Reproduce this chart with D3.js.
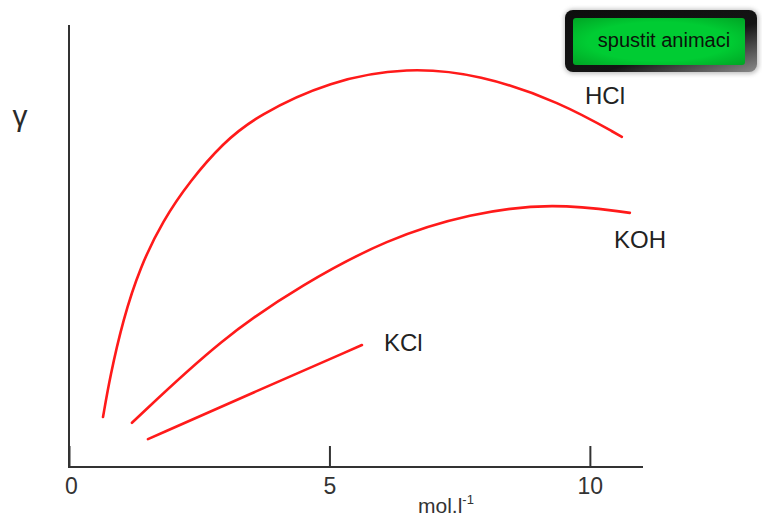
<!DOCTYPE html>
<html><head><meta charset="utf-8">
<script src="https://cdn.jsdelivr.net/npm/d3@7"></script>
<style>body{margin:0;background:#fff}svg{display:block}text{font-family:"Liberation Sans",Arial,sans-serif}</style>
</head><body>
<svg id="c" width="762" height="517"></svg>
<script>
const xTicks = [0, 5, 10];
const xTickLabels = ["0", "5", "10"];
const hclX = [0.653, 0.787, 1.036, 1.363, 1.804, 2.322, 2.956, 3.608, 5.010, 6.500, 7.889, 9.424, 10.614];
const hclY = [0.113, 0.204, 0.333, 0.452, 0.558, 0.647, 0.733, 0.795, 0.874, 0.905, 0.888, 0.826, 0.747];
const kohX = [1.209, 2.956, 4.492, 6.104, 7.697, 9.290, 10.768];
const kohY = [0.100, 0.294, 0.414, 0.516, 0.574, 0.598, 0.575];
const kclX = [1.516, 3.570, 5.624];
const kclY = [0.063, 0.170, 0.276];
const seriesNames = ["HCl", "KOH", "KCl"];

const svg = d3.select("#c");
const x = d3.scaleLinear().domain([0, 11.02]).range([69, 643]);
const y = d3.scaleLinear().domain([0, 1]).range([467, 25]);

const defs = svg.append("defs");
const g1 = defs.append("linearGradient").attr("id","bord").attr("x1","0").attr("x2","1").attr("y1","0").attr("y2","1");
g1.append("stop").attr("offset","0").attr("stop-color","#0d0d0d");
g1.append("stop").attr("offset","0.6").attr("stop-color","#141414");
g1.append("stop").attr("offset","1").attr("stop-color","#8a8a8a");
const g2 = defs.append("radialGradient").attr("id","fillg").attr("cx","0.5").attr("cy","0.5").attr("r","0.75");
g2.append("stop").attr("offset","0.55").attr("stop-color","#00cc33");
g2.append("stop").attr("offset","1").attr("stop-color","#009e22");
const g3 = defs.append("filter").attr("id","blur").attr("x","-0.1").attr("y","-0.2").attr("width","1.2").attr("height","1.4");
g3.append("feGaussianBlur").attr("stdDeviation",2);

// axes
svg.append("line").attr("x1",69).attr("x2",69).attr("y1",25).attr("y2",467).attr("stroke","#333").attr("stroke-width",2);
const xAxis = d3.axisBottom(x).tickValues(xTicks).tickFormat((d,i)=>xTickLabels[i]).tickSizeInner(-21).tickSizeOuter(0).tickPadding(11);
const ax = svg.append("g").attr("transform","translate(0,467)").call(xAxis);
ax.select(".domain").attr("stroke","#333").attr("stroke-width",2).attr("d","M68,0H643");
ax.selectAll(".tick line").attr("stroke","#333").attr("stroke-width",2);
ax.selectAll(".tick text").attr("font-size",23).attr("fill","#333").attr("font-family","Liberation Sans, Arial, sans-serif");
ax.selectAll(".tick").filter(d=>d===0).select("text").attr("x",2);

const xl = svg.append("text").attr("x",418).attr("y",513).attr("font-size",21).attr("fill","#333");
xl.append("tspan").text("mol.l");
xl.append("tspan").attr("font-size",13).attr("dy",-9).text("-1");

svg.append("text").attr("x",20).attr("y",126).attr("text-anchor","middle").attr("font-size",30).attr("fill","#2a2a2a").text("γ");

const line = d3.line().x(d=>x(d[0])).y(d=>y(d[1])).curve(d3.curveBasis);
const series = [d3.zip(hclX,hclY), d3.zip(kohX,kohY), d3.zip(kclX,kclY)];
series.forEach(s=>{
  svg.append("path").attr("d",line(s)).attr("fill","none").attr("stroke","#ff1a1a").attr("stroke-width",2.6).attr("stroke-linecap","round");
});

const labelPos = [[585,104],[614,248],[384,351]];
seriesNames.forEach((n,i)=>{
  svg.append("text").attr("x",labelPos[i][0]).attr("y",labelPos[i][1]).attr("font-size",24).attr("fill","#222").text(n);
});

// button
svg.append("rect").attr("x",564).attr("y",9).attr("width",195).attr("height",65).attr("rx",9).attr("fill","#999").attr("filter","url(#blur)").attr("opacity",0.6);
svg.append("rect").attr("x",565).attr("y",10).attr("width",192).attr("height",62).attr("rx",8).attr("fill","url(#bord)");
svg.append("rect").attr("x",573).attr("y",18).attr("width",172).attr("height",47).attr("rx",3).attr("fill","url(#fillg)");
svg.append("text").attr("x",664).attr("y",47).attr("text-anchor","middle").attr("font-size",20).attr("fill","#0a140a").text("spustit animaci");
</script>
</body></html>
